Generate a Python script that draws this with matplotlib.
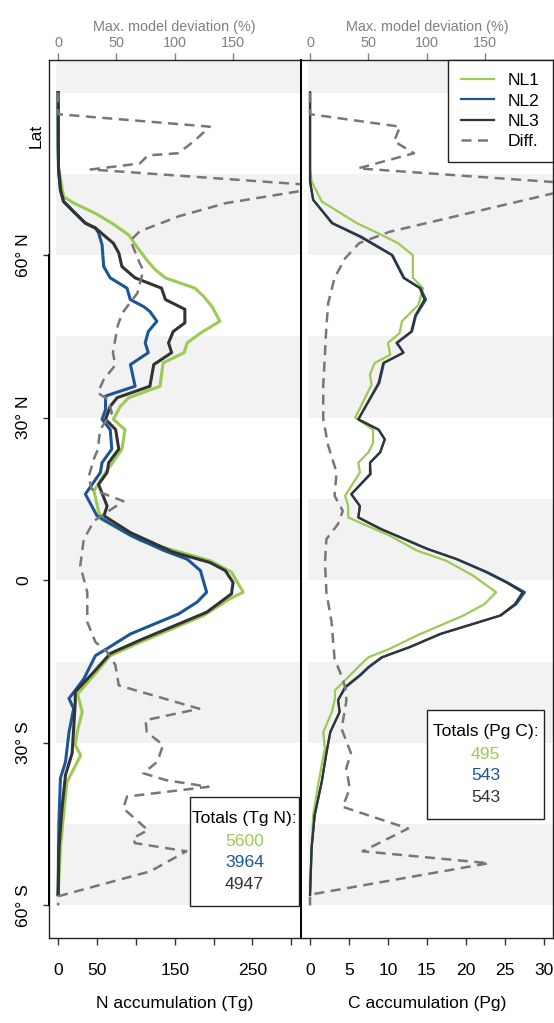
import matplotlib
matplotlib.use('Agg')
import matplotlib.pyplot as plt
from matplotlib.patches import Rectangle

plt.rcParams['font.family'] = ['Liberation Sans', 'DejaVu Sans']

# ---------------- N accumulation (Tg) ----------------
lat_n_nl1 = [90, 80, 76, 74.2, 70.8, 69.6, 67.7, 65.9, 63.7, 61.6, 59.1, 57.3, 55.8, 53.9, 52.4, 50.5,
             47.8, 45.6, 43.8, 42, 40.1, 35.8, 33.7, 32.1, 29.7, 27.8, 24.2, 21.7, 19.9, 16.5, 12.8,
             11.3, 7.3, 5.2, 3.6, 1.5, -2.2, -3.4, -6.5, -11.4, -13.9, -17.2, -21, -22.1, -24.3,
             -28, -30.4, -32.3, -37.2, -43.3, -49.4, -58]
n_nl1 = [0, 0, 0.5, 3, 7, 20, 48, 69, 91, 101, 114, 125, 138, 176, 187, 198,
         208, 183, 166, 162, 135, 131, 91, 80, 71, 86, 82, 70, 61, 46, 52,
         55, 106, 157, 196, 223, 238, 221, 187, 106, 67, 48, 25, 27, 31,
         24.5, 22, 29, 11.4, 7, 3, 0]

lat_n_nl2 = [90, 80, 76, 72, 69.9, 68, 65.9, 65, 64.1, 61.9, 57.9, 55.8, 53.9, 51.8, 50.5, 49.6,
             47.8, 45.9, 43.8, 42, 39.8, 35.8, 34, 31.5, 29.7, 27.8, 24.2, 21.7, 19.9, 15.9,
             11.9, 8.3, 5.5, 3.9, 1.8, -2.2, -4, -6.2, -9.9, -12.6, -13.9, -18.2, -21.8,
             -23.7, -28, -33.5, -36.5, -44.5, -58]
n_nl2 = [0, 0, 0.5, 3, 7, 20, 35, 48, 52, 56.5, 58.6, 67, 88.6, 92.8, 110, 118,
         127, 116, 112, 116, 93, 99, 61, 61, 56.5, 67, 69, 56.5, 54.4, 35,
         50, 93, 136, 166, 183, 191, 179, 155, 93, 63, 48, 33, 14,
         20, 14, 9.5, 3, 1, 0]

lat_n_nl3 = [90, 76, 75, 72, 69.9, 68, 65.9, 65, 63.7, 62.2, 60.4, 57.9, 55.8, 53.9, 51.8, 50,
             47.5, 45.9, 43.8, 42, 39.8, 35.8, 33.7, 32.1, 29.7, 27.8, 24.2, 21.7, 19.9, 17.7,
             13.7, 11.9, 8.8, 5.2, 3.3, 1.8, -0.4, -2.5, -5.9, -11, -13.5, -16.9, -20.6,
             -22.4, -27.3, -31.9, -35.9, -42.1, -49.4, -58]
n_nl3 = [0, 0.5, 1, 3, 7, 20, 35, 48, 58.6, 71, 78, 82, 99, 133, 138, 163,
         163, 148, 142, 146, 123, 118, 76, 67, 61, 74, 78, 65, 63, 52,
         63, 59, 93, 148, 195, 215, 225, 223, 191, 106, 67, 46, 22,
         22, 20, 18, 9.5, 5, 1, 0]

# max. model deviation (%) for N
lat_n_diff = [90, 86, 83.7, 81.1, 78.8, 78.4, 76.9, 75.8, 72.7, 69.6, 67.2, 64.4, 62.7, 58.5, 57.2,
              53, 49.3, 46.9, 42, 39.7, 37, 34.6, 33.3, 30.9, 27.8, 24.1, 22.6, 19, 16.8, 14.6,
              11, 7.6, 2.7, -2.2, -7.7, -11.4, -13.2, -15.6, -19.4, -23.7, -25.8, -28, -30.4,
              -33.5, -35.6, -36.9, -38.1, -39.9, -42.1, -46.1, -47.6, -48.5, -50, -53.7, -58.3, -60]
n_diff = [0, 0, 130, 117, 103, 77, 70, 28, 233, 144, 104, 70, 62, 70, 73,
          68, 55, 51, 47, 49, 39, 34, 43, 46, 36, 34, 31, 26, 29, 56,
          31, 22, 19, 25, 25, 32, 42, 49, 52, 121, 75, 76, 90,
          85, 73, 93, 129, 59, 56, 77, 64, 66, 110, 79, 0, 0]

# ---------------- C accumulation (Pg) ----------------
lat_c_nl1 = [90, 76, 73.6, 69.9, 65.9, 64, 62.2, 60, 55.8, 53.9, 50.8, 47.8, 45.6, 43.8, 41.6, 40.1,
             38, 36.1, 30, 27.8, 25.4, 23.6, 21.7, 19.9, 15.6, 13.7, 11.6, 8.2, 5.5, 3.6, 0.9,
             -2.2, -4.4, -6.5, -10.2, -12.6, -14.2, -15.7, -20.3, -21.8, -24.3, -28, -31,
             -37.2, -43.3, -49.4, -58]
c_nl1 = [0, 0, 0.2, 1.5, 6.0, 8.8, 11.3, 13.2, 13.2, 14.5, 13.9, 11.8, 11.5, 10.0, 10.3, 8.3,
         7.7, 7.9, 5.8, 8.1, 8.1, 7.5, 6.2, 6.4, 4.5, 4.9, 4.9, 10.3, 13.7, 17.5, 20.9,
         23.9, 22.4, 19.7, 13.7, 10.3, 7.5, 6.4, 3.2, 3.2, 2.8, 1.7, 1.9,
         1.1, 0.4, 0.2, 0]

lat_c_nl2 = [90, 76, 73.6, 70.2, 65.9, 63.4, 60, 55.8, 53.9, 51.8, 48.8, 45.9, 43.8, 42, 40.1,
             36.4, 29.7, 27.8, 26, 23.6, 21.7, 19.6, 15.9, 13.7, 11.6, 9.5, 5.8, 3.9, 1.5,
             -0.4, -2.2, -4.4, -6.5, -9.9, -12.3, -14.2, -16, -17.5, -19.7, -22.1, -24.3,
             -28, -31.9, -37.2, -43.3, -49.4, -58]
c_nl2 = [0, 0, 0, 0.4, 2.9, 6.6, 10.6, 12.1, 14.2, 14.9, 13.6, 13.1, 11.2, 12.0, 9.5,
         8.9, 6.2, 8.8, 9.6, 9.0, 7.7, 7.8, 5.3, 6.4, 6.2, 9.1, 15.1, 18.9, 22.8,
         25.4, 27.6, 26.5, 24.5, 16.8, 12.9, 9.3, 7.6, 6.5, 4.6, 3.6, 3.8,
         2.6, 2.1, 1.5, 0.6, 0.2, 0]

lat_c_nl3 = [90, 76, 73.6, 70.2, 65.9, 63.4, 60, 55.8, 53.9, 51.8, 48.8, 45.9, 43.8, 42, 40.1,
             36.4, 29.7, 27.8, 26, 23.6, 21.7, 19.6, 15.9, 13.7, 11.6, 9.5, 5.8, 3.9, 1.5,
             -0.4, -2.2, -4.4, -6.5, -9.9, -12.3, -14.2, -16, -17.5, -19.7, -22.1, -24.3,
             -28, -31.9, -37.2, -43.3, -49.4, -58]
c_nl3 = [0, 0, 0, 0.4, 2.8, 6.4, 10.5, 12.0, 14.1, 14.7, 13.5, 13.0, 11.1, 12.0, 9.4,
         8.8, 6.2, 8.8, 9.6, 9.0, 7.7, 7.7, 5.3, 6.4, 6.2, 9.0, 15.0, 18.8, 22.6,
         25.2, 27.3, 26.3, 24.4, 16.7, 12.8, 9.2, 7.5, 6.4, 4.5, 3.6, 3.8,
         2.6, 2.1, 1.5, 0.6, 0.2, 0]

# max. model deviation (%) for C
lat_c_diff = [90, 86, 83.7, 81, 78.8, 76, 73, 64.3, 62.2, 59.4, 55.8, 51.2, 46.9, 42, 35.8, 29.7,
              24.8, 19.9, 15.6, 12.8, 10.4, 7.6, 3.3, -2.2, -7.7, -14.5, -18.2, -20.6, -22.4,
              -27.4, -31.9, -34.7, -38.4, -41.8, -45.8, -50, -52.2, -58, -60]
c_diff = [0, 0, 77, 72, 89, 41, 240, 68, 42, 30, 21, 15.6, 14, 12.8, 11.3, 11.3,
          15.6, 22.7, 21, 28, 24, 14, 12.8, 14, 18.4, 21, 28, 31, 31,
          27, 35, 31, 34, 28, 84, 45, 153, 0, 0]

totals_n = ['5600', '3964', '4947']
totals_c = ['495', '543', '543']
labels = ['NL1', 'NL2', 'NL3', 'Diff.']

GREEN = '#9BCB52'
BLUE = '#1B5796'
DARK = '#333333'
GREY = '#777777'
BAND = '#F2F2F2'
TXTGREY = '#808080'
FS = 12.6
FS_TOP = 10.4

W, H = 554, 1023
fig = plt.figure(figsize=(W / 100, H / 100), dpi=100)


def fig_box(x0, y0, x1, y1):
    # pixel box (top-left origin) -> figure fraction [left, bottom, width, height]
    return [x0 / W, 1 - y1 / H, (x1 - x0) / W, (y1 - y0) / H]


ax1 = fig.add_axes(fig_box(48.8, 60, 300.7, 938))
ax2 = fig.add_axes(fig_box(300.7, 60, 553, 938))

bands = [(90, 110), (60, 75), (30, 45), (0, 15), (-30, -15), (-60, -45)]

panels = [
    (ax1, (-12, 312), 1.5, lat_n_nl1, n_nl1, lat_n_nl2, n_nl2, lat_n_nl3, n_nl3, lat_n_diff, n_diff, 2.2,
     [0, 50, 100, 150, 200, 250, 300], ['0', '50', '', '150', '', '250', ''], 'N accumulation (Tg)'),
    (ax2, (-1.2, 31.2), 0.15, lat_c_nl1, c_nl1, lat_c_nl2, c_nl2, lat_c_nl3, c_nl3, lat_c_diff, c_diff, 1.6,
     [0, 5, 10, 15, 20, 25, 30], ['0', '5', '10', '15', '20', '25', '30'], 'C accumulation (Pg)'),
]

for (ax, xlim, scale, la1, v1, la2, v2, la3, v3, lad, vd, lw, xt, xtl, xlab) in panels:
    for lo, hi in bands:
        ax.axhspan(lo, hi, xmin=0.028, xmax=1, color=BAND, lw=0, zorder=0)
    ax.plot(v1, la1, color=GREEN, lw=lw, solid_joinstyle='round', label=labels[0], zorder=3)
    ax.plot(v2, la2, color=BLUE, lw=lw, solid_joinstyle='round', label=labels[1], zorder=3)
    ax.plot(v3, la3, color=DARK, lw=lw, solid_joinstyle='round', label=labels[2], zorder=3)
    ax.plot([v * scale for v in vd], lad, color=GREY, lw=1.8, ls=(0, (4, 2.6)), label=labels[3], zorder=4)
    ax.set_xlim(*xlim)
    ax.set_ylim(-66, 96)
    ax.set_xticks(xt)
    ax.set_xticklabels(xtl)
    ax.tick_params(axis='x', direction='out', length=5, width=1, pad=13, labelsize=FS, color=DARK)
    ax.set_xlabel(xlab, fontsize=FS, labelpad=13)
    for sp in ax.spines.values():
        sp.set_color('#222222')
        sp.set_linewidth(1.0)

    sec = ax.secondary_xaxis('top', functions=(lambda x, s=scale: x / s, lambda p, s=scale: p * s))
    sec.set_xticks([0, 50, 100, 150])
    sec.tick_params(direction='out', length=5, width=1, pad=2, labelsize=FS_TOP,
                    color=TXTGREY, labelcolor=TXTGREY)
    sec.spines['top'].set_visible(False)
    sec.set_xlabel('Max. model deviation (%)', fontsize=FS_TOP, color=TXTGREY, labelpad=4)

ax1.set_yticks([-60, -30, 0, 30, 60])
ax1.set_yticklabels(['60° S', '30° S', '0', '30° N', '60° N'], rotation=90, va='center')
ax1.tick_params(axis='y', direction='out', length=4.5, width=1, pad=8, labelsize=FS, color=DARK)
ax1.plot([0, 0], [-60, 60], transform=ax1.get_yaxis_transform(), color='black', lw=1.4, clip_on=False, zorder=5)
ax1.text(-0.05, 82, 'Lat', rotation=90, ha='center', va='center', fontsize=FS,
         transform=ax1.get_yaxis_transform())
ax2.set_yticks([])
ax2.spines['left'].set_color('black')
ax2.spines['left'].set_linewidth(1.4)

leg = ax2.legend(loc='upper right', borderaxespad=0, fancybox=False, framealpha=1, edgecolor='#222222',
                 fontsize=FS, handlelength=1.9, handletextpad=0.8, borderpad=0.75, labelspacing=0.28)
leg.get_frame().set_linewidth(1.0)
leg.set_zorder(10)

# totals boxes
colors = [GREEN, BLUE, DARK]
for (x0, y0, x1, y1, title, vals) in [(190, 797, 299, 906, 'Totals (Tg N):', totals_n),
                                        (427, 710, 544, 819, 'Totals (Pg C):', totals_c)]:
    b = fig_box(x0, y0, x1, y1)
    fig.add_artist(Rectangle((b[0], b[1]), b[2], b[3], transform=fig.transFigure,
                             facecolor='white', edgecolor='#222222', lw=1.0, zorder=10))
    xc = (x0 + x1) / 2 / W
    fig.text(xc, 1 - (y0 + 21.5) / H, title, ha='center', va='center', fontsize=FS, zorder=11)
    for i, v in enumerate(vals):
        fig.text(xc, 1 - (y0 + 44.5 + 21.3 * i) / H, v, ha='center', va='center',
                 fontsize=FS, color=colors[i], zorder=11)

fig.savefig('out.png', dpi=100)
